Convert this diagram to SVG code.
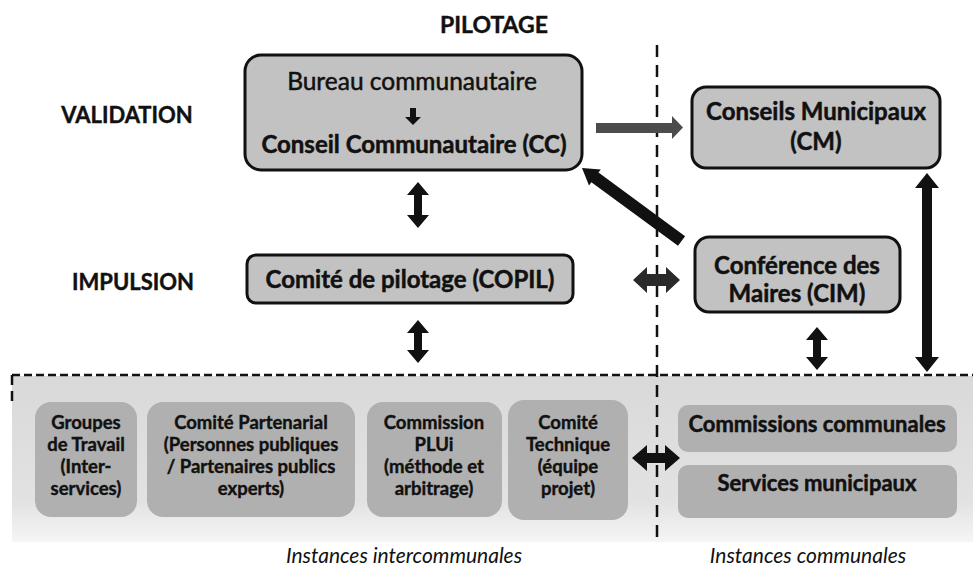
<svg xmlns="http://www.w3.org/2000/svg" width="973" height="572" viewBox="0 0 973 572">
<style>
text{font-family:Lato,"Liberation Sans",sans-serif;fill:#111;text-anchor:middle}
.lab{font-size:22px;font-weight:bold;stroke:#111;stroke-width:0.4}
.big{font-size:24px;font-weight:bold;stroke:#111;stroke-width:0.5}
.reg{font-size:24.5px;font-weight:normal;stroke:#111;stroke-width:0.5}
.sm{font-size:18.5px;font-weight:bold;stroke:#111;stroke-width:0.4}
.mid{font-size:22px;font-weight:bold;stroke:#111;stroke-width:0.5}
.foot{font-size:21px;font-style:italic}
.topbox{fill:#c2c2c2;stroke:#111;stroke-width:3}
.botbox{fill:#b0b0b0;stroke:none}
.blk{fill:#111}
.gry{fill:#4c4c4c}
.dk{fill:#2a2a2a}
.dash{stroke:#111;stroke-width:2.5;fill:none}
</style>
<defs>
<linearGradient id="bg" x1="0" y1="0" x2="0" y2="1">
<stop offset="0" stop-color="#d9d9d9"/>
<stop offset="0.75" stop-color="#e2e2e2"/>
<stop offset="1" stop-color="#f5f5f5"/>
</linearGradient>
</defs>
<rect width="973" height="572" fill="#fff"/>
<g id="zone-bottom">
<rect x="12" y="376" width="961" height="166" fill="url(#bg)"/>
<line class="dash" x1="12" y1="375" x2="973" y2="375" stroke-dasharray="8 4"/>
<line class="dash" x1="12" y1="375" x2="12" y2="404" stroke-dasharray="10 6"/>
<line class="dash" x1="657" y1="45" x2="657" y2="540" stroke-dasharray="12 8"/>
</g>
<g id="labels">
<text class="lab" x="494" y="33" style="font-size:23px">PILOTAGE</text>
<text class="lab" x="127" y="123">VALIDATION</text>
<text class="lab" x="133" y="290">IMPULSION</text>
<text class="foot" x="404" y="563">Instances intercommunales</text>
<text class="foot" x="808" y="563">Instances communales</text>
</g>
<g id="node-cc">
<rect class="topbox" x="245" y="55" width="337" height="115" rx="16"/>
<text class="reg" x="412" y="90">Bureau communautaire</text>
<polygon class="blk" points="410,108 416,108 416,117 421,117 413,125 405,117 410,117"/>
<text class="big" x="414" y="153">Conseil Communautaire (CC)</text>
</g>
<g id="node-cm">
<rect class="topbox" x="692" y="87" width="248" height="81" rx="14"/>
<text class="big" x="816" y="120">Conseils Municipaux</text>
<text class="big" x="816" y="150">(CM)</text>
</g>
<g id="node-copil">
<rect class="topbox" x="247" y="255" width="326" height="48" rx="9"/>
<text class="big" x="410" y="288">Comité de pilotage (COPIL)</text>
</g>
<g id="node-cim">
<rect class="topbox" x="695" y="237" width="205" height="75" rx="14"/>
<text class="big" x="797" y="274">Conférence des</text>
<text class="big" x="797" y="302">Maires (CIM)</text>
</g>
<g id="node-groupes">
<rect class="botbox" x="35" y="402" width="102" height="115" rx="16"/>
<text class="sm" x="86" y="429">Groupes</text>
<text class="sm" x="86" y="451">de Travail</text>
<text class="sm" x="86" y="473">(Inter-</text>
<text class="sm" x="86" y="495">services)</text>
</g>
<g id="node-partenarial">
<rect class="botbox" x="147" y="402" width="208" height="115" rx="16"/>
<text class="sm" x="251" y="429">Comité Partenarial</text>
<text class="sm" x="251" y="451">(Personnes publiques</text>
<text class="sm" x="251" y="473">/ Partenaires publics</text>
<text class="sm" x="251" y="495">experts)</text>
</g>
<g id="node-plui">
<rect class="botbox" x="367" y="402" width="135" height="115" rx="16"/>
<text class="sm" x="434" y="429">Commission</text>
<text class="sm" x="434" y="451">PLUi</text>
<text class="sm" x="434" y="473">(méthode et</text>
<text class="sm" x="434" y="495">arbitrage)</text>
</g>
<g id="node-technique">
<rect class="botbox" x="508" y="400" width="120" height="120" rx="16"/>
<text class="sm" x="568" y="429">Comité</text>
<text class="sm" x="568" y="451">Technique</text>
<text class="sm" x="568" y="473">(équipe</text>
<text class="sm" x="568" y="495">projet)</text>
</g>
<g id="node-commissions">
<rect class="botbox" x="678" y="405" width="279" height="47" rx="10"/>
<text class="mid" x="817" y="432">Commissions communales</text>
</g>
<g id="node-services">
<rect class="botbox" x="678" y="465" width="279" height="53" rx="10"/>
<text class="mid" x="817" y="491">Services municipaux</text>
</g>
<g id="connectors">
<polygon class="gry" points="596,123 672,123 672,116 683,127.5 672,139 672,133 596,133"/>
<polygon class="blk" points="685.1,236.2 598.5,172.6 600.8,169.4 582,168 589,185.5 591.4,182.3 678,245.8"/>
<polygon class="blk" points="418,182 429,195 422,195 422,215 429,215 418,228 407,215 414,215 414,195 407,195"/>
<polygon class="blk" points="418,320 429,333 422,333 422,350 429,350 418,363 407,350 414,350 414,333 407,333"/>
<polygon class="blk" points="817,327 828,340 821,340 821,357 828,357 817,370 806,357 813,357 813,340 806,340"/>
<polygon class="blk" points="927,173 939,188 932,188 932,357 939,357 927,372 915,357 922,357 922,188 915,188"/>
<polygon class="dk" points="633,280 647,267 647,274 666,274 666,267 680,280 666,293 666,286 647,286 647,293"/>
<polygon class="blk" points="632,458 647,445 647,453 665,453 665,445 680,458 665,471 665,463 647,463 647,471"/>
</g>
</svg>
